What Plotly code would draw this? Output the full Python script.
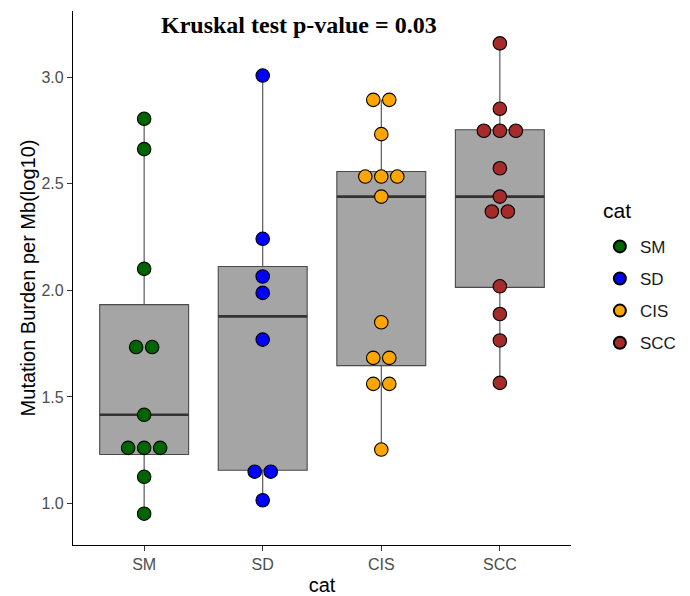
import plotly.graph_objects as go
from collections import Counter

categories = ["SM", "SD", "CIS", "SCC"]
colors = ["#006400", "#0000FF", "#FFA500", "#A52A2A"]

sm_values = [2.805, 2.663, 2.101, 1.734, 1.734, 1.416, 1.261, 1.261, 1.261, 1.125, 0.952]
sd_values = [3.008, 2.242, 2.065, 1.988, 1.769, 1.149, 1.149, 1.015]
cis_values = [2.894, 2.894, 2.733, 2.534, 2.534, 2.534, 2.440, 1.850, 1.683, 1.683, 1.561, 1.561, 1.253]
scc_values = [3.159, 2.852, 2.749, 2.749, 2.749, 2.573, 2.440, 2.370, 2.370, 2.019, 1.889, 1.765, 1.566]

box_q1 = [1.230, 1.156, 1.647, 2.014]
box_median = [1.416, 1.878, 2.440, 2.440]
box_q3 = [1.933, 2.112, 2.558, 2.754]
box_lower = [0.952, 1.015, 1.253, 1.566]
box_upper = [2.805, 3.008, 2.894, 3.159]

y_ticks = [1.0, 1.5, 2.0, 2.5, 3.0]
title_text = "Kruskal test p-value = 0.03"
legend_title = "cat"

series = [sm_values, sd_values, cis_values, scc_values]

BOX_W = 0.75
DOT_STEP = 0.135

fig = go.Figure()

for i, cat in enumerate(categories):
    pos = i + 1
    fig.add_trace(go.Box(
        x=[pos], q1=[box_q1[i]], median=[box_median[i]], q3=[box_q3[i]],
        lowerfence=[box_lower[i]], upperfence=[box_upper[i]],
        width=BOX_W, whiskerwidth=0, fillcolor="#A5A5A5",
        line=dict(color="#4a4a4a", width=1.1), boxpoints=False,
        showlegend=False, hoverinfo="skip"))
    fig.add_trace(go.Scatter(
        x=[pos - BOX_W / 2, pos + BOX_W / 2], y=[box_median[i], box_median[i]],
        mode="lines", line=dict(color="#333333", width=2.6),
        showlegend=False, hoverinfo="skip"))

for i, cat in enumerate(categories):
    pos = i + 1
    counts = Counter(series[i])
    seen = Counter()
    xs, ys = [], []
    for v in series[i]:
        n = counts[v]
        k = seen[v]
        seen[v] += 1
        xs.append(pos + (k - (n - 1) / 2) * DOT_STEP)
        ys.append(v)
    fig.add_trace(go.Scatter(
        x=xs, y=ys, mode="markers", name=cat, legendgroup=cat,
        marker=dict(color=colors[i], size=13.5, line=dict(color="black", width=1.1))))

fig.add_annotation(
    text="<b>" + title_text + "</b>", xref="paper", yref="paper",
    x=0.453, y=0.974, xanchor="center", yanchor="middle", showarrow=False,
    font=dict(family="Liberation Serif", size=24, color="black"))

fig.add_annotation(
    text=legend_title, xref="paper", yref="paper",
    x=1.060, y=0.627, xanchor="left", yanchor="middle", showarrow=False,
    font=dict(family="Liberation Sans", size=21, color="black"))

axis_common = dict(
    showline=True, linecolor="black", linewidth=1.2, ticks="outside",
    ticklen=5, tickcolor="#333333", tickwidth=1.1, showgrid=False, zeroline=False,
    automargin=False,
    tickfont=dict(family="Liberation Sans", size=16, color="#4D4D4D"),
)

fig.update_layout(
    width=690, height=596,
    margin=dict(l=73, r=119, t=11, b=51, autoexpand=False),
    paper_bgcolor="white", plot_bgcolor="white",
    font=dict(family="Liberation Sans"),
    xaxis=dict(range=[0.4, 4.6], tickvals=[1, 2, 3, 4], ticktext=categories,
               title=dict(text="cat", font=dict(size=20, color="black"), standoff=8),
               **axis_common),
    yaxis=dict(range=[0.805, 3.311], tickvals=y_ticks,
               ticktext=["%.1f" % t for t in y_ticks],
               title=dict(text="Mutation Burden per Mb(log10)", font=dict(size=20, color="black"), standoff=0),
               **axis_common),
    legend=dict(font=dict(size=17, color="#1a1a1a"),
                x=1.058, xanchor="left", y=0.592, yanchor="top",
                itemsizing="constant", tracegroupgap=7,
                bgcolor="rgba(0,0,0,0)"),
    showlegend=True,
)

fig.write_html("out.html", config={"displayModeBar": False},
               post_script="document.body.style.margin='0';")
